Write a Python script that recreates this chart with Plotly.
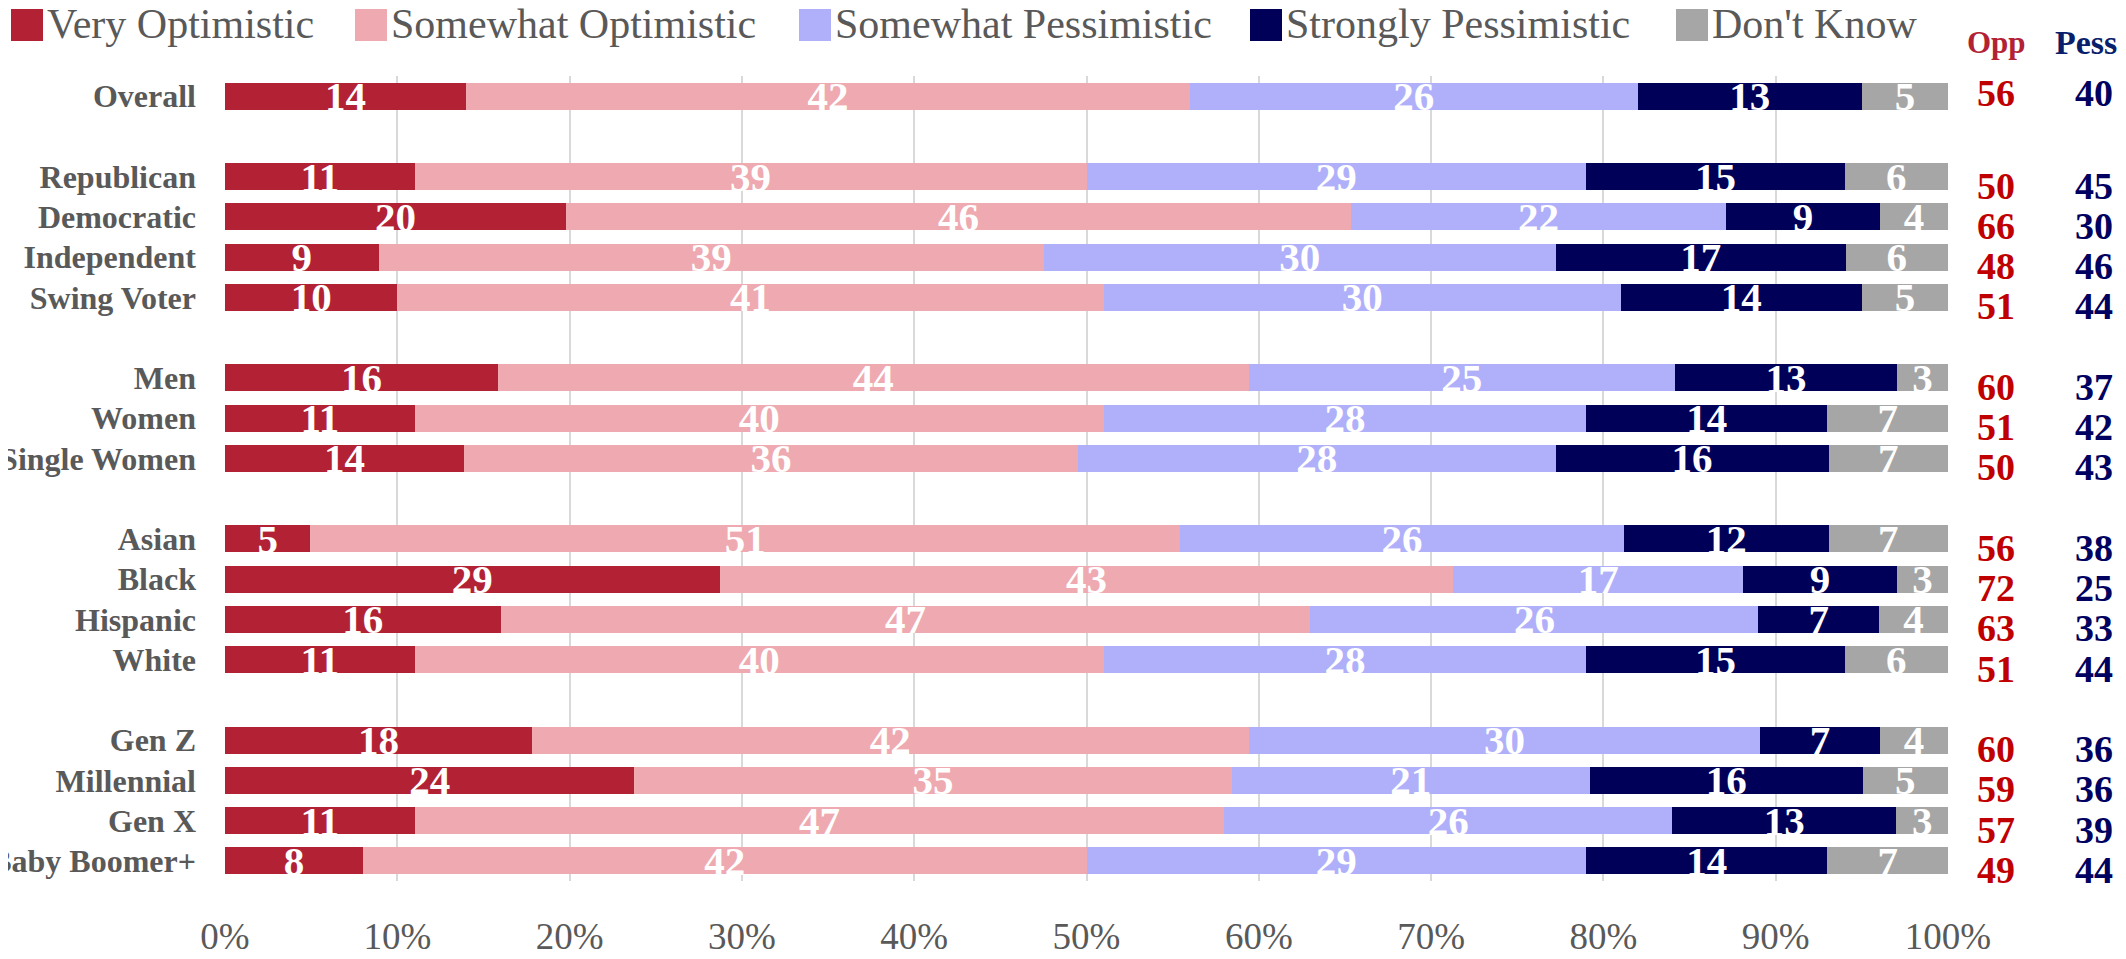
import plotly.graph_objects as go

# ---------------- data ----------------
categories = ["Overall",
              "Republican", "Democratic", "Independent", "Swing Voter",
              "Men", "Women", "Single Women",
              "Asian", "Black", "Hispanic", "White",
              "Gen Z", "Millennial", "Gen X", "Baby Boomer+"]
group_breaks_after = ["Overall", "Swing Voter", "Single Women", "White"]

series_names = ["Very Optimistic", "Somewhat Optimistic", "Somewhat Pessimistic",
                "Strongly Pessimistic", "Don't Know"]
very_optimistic = [14, 11, 20, 9, 10, 16, 11, 14, 5, 29, 16, 11, 18, 24, 11, 8]
somewhat_optimistic = [42, 39, 46, 39, 41, 44, 40, 36, 51, 43, 47, 40, 42, 35, 47, 42]
somewhat_pessimistic = [26, 29, 22, 30, 30, 25, 28, 28, 26, 17, 26, 28, 30, 21, 26, 29]
strongly_pessimistic = [13, 15, 9, 17, 14, 13, 14, 16, 12, 9, 7, 15, 7, 16, 13, 14]
dont_know = [5, 6, 4, 6, 5, 3, 7, 7, 7, 3, 4, 6, 4, 5, 3, 7]
opp_totals = [56, 50, 66, 48, 51, 60, 51, 50, 56, 72, 63, 51, 60, 59, 57, 49]
pess_totals = [40, 45, 30, 46, 44, 37, 42, 43, 38, 25, 33, 44, 36, 36, 39, 44]
x_ticks = list(range(0, 101, 10))
x_tick_labels = [f"{v}%" for v in x_ticks]

# ---------------- styles ----------------
colors = ["#B22234", "#EEAAB0", "#B0B0FA", "#000058", "#A6A6A6"]
FONT = "Liberation Serif"
GRAY = "#595959"
OFF = 8                      # default page body margin
W, H = 2126 - OFF, 959 - OFF
# plot area in page pixels: x 225..1948, y 76..881
ML, MT = 225 - OFF, 76 - OFF
MR, MB = W - (1948 - OFF), H - (881 - OFF)
PW, PH = W - ML - MR, H - MT - MB


def px_x(page_px):
    return (page_px - OFF - ML) / PW


def px_y(page_py):
    return 1 + (MT - (page_py - OFF)) / PH


# category order with blank spacer rows between groups
cat_order = []
spacer = 0
for c in categories:
    cat_order.append(c)
    if c in group_breaks_after:
        spacer += 1
        cat_order.append(" " * spacer)

all_series = [very_optimistic, somewhat_optimistic, somewhat_pessimistic,
              strongly_pessimistic, dont_know]

fig = go.Figure()
for name, vals, col in zip(series_names, all_series, colors):
    fig.add_trace(go.Bar(
        y=categories, x=vals, name=name, orientation="h",
        marker=dict(color=col, line=dict(width=0)),
        text=[str(v) for v in vals], textposition="inside",
        insidetextanchor="middle", textangle=0, constraintext="none",
        textfont=dict(family=FONT, size=41, color="white", weight="bold"),
        hoverinfo="skip", showlegend=False,
    ))

fig.update_layout(
    barmode="stack", barnorm="percent", bargap=0.33,
    width=W, height=H,
    margin=dict(l=ML, r=MR, t=MT, b=MB, pad=0, autoexpand=False),
    plot_bgcolor="white", paper_bgcolor="white",
    font=dict(family=FONT, color=GRAY),
    showlegend=False,
)
fig.update_xaxes(
    range=[0, 100], tickmode="array", tickvals=x_ticks, ticktext=x_tick_labels,
    showgrid=True, gridcolor="#d9d9d9", gridwidth=2,
    zeroline=False, showline=False, ticks="", automargin=False,
    tickfont=dict(family=FONT, size=37, color=GRAY),
    ticklabelstandoff=30,
)
fig.update_yaxes(
    type="category", categoryorder="array", categoryarray=cat_order,
    autorange="reversed", showgrid=False, zeroline=False, showline=False,
    ticks="", automargin=False,
    tickfont=dict(family=FONT, size=32, color=GRAY, weight="bold"),
    ticklabelstandoff=28,
)

# manual legend (large squares)
legend_square_px = [11, 355, 799, 1250, 1676]
sq = 32
for name, col, lx in zip(series_names, colors, legend_square_px):
    fig.add_shape(type="rect", xref="paper", yref="paper",
                  x0=px_x(lx), x1=px_x(lx + sq), y0=px_y(41), y1=px_y(9),
                  fillcolor=col, line=dict(width=0), layer="above")
    fig.add_annotation(xref="paper", yref="paper", x=px_x(lx + sq + 2), y=px_y(24),
                       text=name, showarrow=False, xanchor="left", yanchor="middle",
                       font=dict(family=FONT, size=42, color=GRAY))

# Opp / Pess columns
opp_x, pess_x = px_x(1996), px_x(2094)
fig.add_annotation(xref="paper", yref="paper", x=opp_x, y=px_y(42), text="<b>Opp</b>",
                   showarrow=False, xanchor="center", yanchor="middle",
                   font=dict(family=FONT, size=31, color="#B22234"))
fig.add_annotation(xref="paper", yref="paper", x=px_x(2086), y=px_y(42), text="<b>Pess</b>",
                   showarrow=False, xanchor="center", yanchor="middle",
                   font=dict(family=FONT, size=34, color="#0A1F6B"))
for c, o, p in zip(categories, opp_totals, pess_totals):
    ys = 3 if c == "Overall" else -9
    fig.add_annotation(xref="paper", yref="y", x=opp_x, y=c, text=f"<b>{o}</b>",
                       showarrow=False, yshift=ys, xanchor="center",
                       font=dict(family=FONT, size=38, color="#C00000"))
    fig.add_annotation(xref="paper", yref="y", x=pess_x, y=c, text=f"<b>{p}</b>",
                       showarrow=False, yshift=ys, xanchor="center",
                       font=dict(family=FONT, size=38, color="#000060"))

fig.write_html("out.html")
